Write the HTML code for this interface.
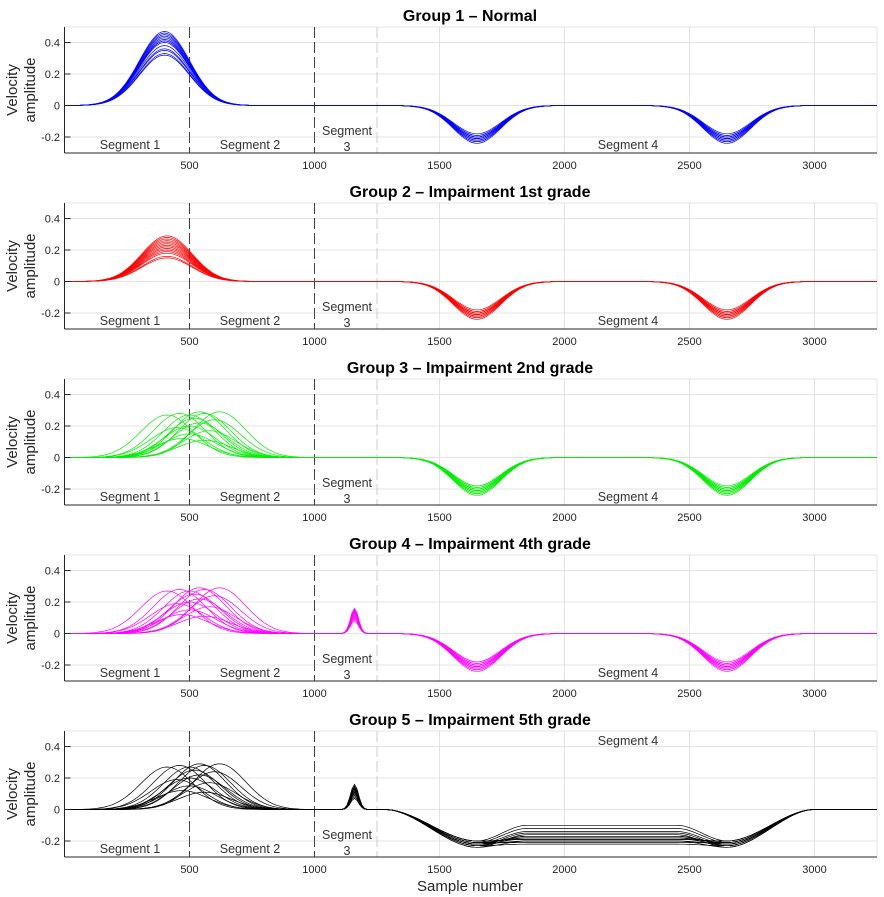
<!DOCTYPE html>
<html><head><meta charset="utf-8">
<style>
html,body{margin:0;padding:0;background:#fff;overflow:hidden;}
svg{display:block;font-family:"Liberation Sans",sans-serif;}
</style></head>
<body>
<svg id="chart" width="884" height="897" viewBox="0 0 884 897" xmlns="http://www.w3.org/2000/svg"></svg>
<script>
// ---- data ----
const groupTitles = ["Group 1 \u2013 Normal","Group 2 \u2013 Impairment 1st grade","Group 3 \u2013 Impairment 2nd grade","Group 4 \u2013 Impairment 4th grade","Group 5 \u2013 Impairment 5th grade"];
const groupColors = ["#0000ff","#ff0000","#00ee00","#ff00ff","#000000"];
const xTicks = [500,1000,1500,2000,2500,3000];
const yTicks = [-0.2,0,0.2,0.4];
const yTickLabels = ["-0.2","0","0.2","0.4"];
const segDividers = [500,1000,1250];
// positive wave: centers and amplitudes per group
const posCenters1 = [400,400,400,400,400,400,400,400,400,400,400,400,400,400];
const posAmps1 = [0.32,0.33,0.35,0.36,0.38,0.40,0.41,0.42,0.43,0.44,0.45,0.46,0.47,0.41];
const posCenters2 = [410,410,410,410,410,410,410,410,410,410,410,410,410,410];
const posAmps2 = [0.15,0.16,0.18,0.19,0.20,0.22,0.23,0.24,0.25,0.26,0.27,0.28,0.29,0.21];
const posCenters3 = [410,460,500,540,560,600,620,500,450,540,580,500,470,560,520];
const posAmps3 = [0.27,0.28,0.27,0.29,0.28,0.24,0.29,0.20,0.19,0.22,0.17,0.15,0.12,0.11,0.25];
const posCenters4 = [410,460,500,540,560,600,620,500,450,540,580,500,470,560,520];
const posAmps4 = [0.27,0.28,0.27,0.29,0.28,0.24,0.29,0.20,0.19,0.22,0.17,0.15,0.12,0.11,0.25];
const posCenters5 = [410,460,500,540,560,600,620,500,450,540,580,500,470,560,520];
const posAmps5 = [0.27,0.28,0.27,0.29,0.28,0.24,0.29,0.20,0.19,0.22,0.17,0.15,0.12,0.11,0.25];
// segment-3 spike amplitudes (groups 4,5)
const spikeAmps4 = [0.08,0.09,0.10,0.11,0.12,0.13,0.14,0.15,0.16,0.12,0.10,0.14,0.11,0.13,0.15];
const spikeAmps5 = [0.07,0.08,0.10,0.11,0.12,0.13,0.14,0.15,0.16,0.12,0.10,0.14,0.11,0.13,0.09];
// negative dips
const dip1Amps = [-0.18,-0.19,-0.20,-0.21,-0.22,-0.23,-0.24,-0.20,-0.21,-0.19,-0.22,-0.23,-0.20,-0.21];
const dip2Amps = [-0.18,-0.19,-0.20,-0.21,-0.22,-0.23,-0.24,-0.20,-0.21,-0.19,-0.22,-0.23,-0.20,-0.21];
// group 5 plateau levels
const plateau5 = [-0.10,-0.12,-0.14,-0.15,-0.16,-0.17,-0.18,-0.18,-0.19,-0.20,-0.20,-0.21,-0.22,-0.17,-0.19];
const dip5Amps = [-0.20,-0.21,-0.22,-0.23,-0.24,-0.22,-0.21,-0.23,-0.20,-0.24,-0.22,-0.21,-0.23,-0.22,-0.20];

const posC=[posCenters1,posCenters2,posCenters3,posCenters4,posCenters5];
const posA=[posAmps1,posAmps2,posAmps3,posAmps4,posAmps5];
const spikeA=[null,null,null,spikeAmps4,spikeAmps5];

const svg=document.getElementById('chart');
const NS="http://www.w3.org/2000/svg";
function mk(tag,attrs,parent){const e=document.createElementNS(NS,tag);for(const k in attrs)e.setAttribute(k,attrs[k]);(parent||svg).appendChild(e);return e;}
const X0=64.5, XS=0.25;
function xs(v){return X0+v*XS;}
function ysFor(p){const zero=105.5+176*p;return v=>zero-v*157.5;}
function g(x,c,s){return Math.exp(-0.5*((x-c)/s)**2);}
function ramp(x,a,b){if(x<=a)return 0;if(x>=b)return 1;const t=(x-a)/(b-a);return t*t*(3-2*t);}

for(let p=0;p<5;p++){
  const ys=ysFor(p), top=27+176*p, bot=153+176*p;
  const grp=mk('g',{});
  
  
  const t=mk('text',{x:470,y:21+176*p,'text-anchor':'middle','font-size':'16','font-weight':'bold',fill:'#000'},grp);
  t.textContent=groupTitles[p];
  
  
  // grid
  xTicks.forEach(v=>{if(v>1250){const l=mk('line',{x1:xs(v),x2:xs(v),y1:top,y2:bot,stroke:'#e3e3e3','stroke-width':1},grp);}});
  yTicks.forEach(v=>{const l=mk('line',{x1:X0,x2:877,y1:ys(v),y2:ys(v),stroke:'#e3e3e3','stroke-width':1},grp);});
  mk('line',{x1:X0,x2:877,y1:top,y2:top,stroke:'#e6e6e6'},grp);
  mk('line',{x1:877,x2:877,y1:top,y2:bot,stroke:'#e6e6e6'},grp);
  // dividers
  segDividers.forEach((v,i)=>{const l=mk('line',{x1:xs(v),x2:xs(v),y1:top,y2:bot,stroke:i<2?'#444':'#ccc','stroke-width':1,'stroke-dasharray':'11,4'},grp);});
  // curves
  const cs=posC[p], as=posA[p];
  for(let k=0;k<as.length;k++){
    let pts=[];
    for(let x=0;x<=3250;x+=10){
      let v=as[k]*g(x,cs[k],p<2?100:105);
      if(spikeA[p]) v+=spikeA[p][k%spikeA[p].length]*g(x,1160,16);
      if(p<4){
        v+=dip1Amps[k%dip1Amps.length]*g(x,1650,95)+dip2Amps[(k+3)%dip2Amps.length]*g(x,2650,95);
      }else{
        const pl=plateau5[k%plateau5.length], d=dip5Amps[k%dip5Amps.length];
        let base;
        if(x<1650) base=d*ramp(x,1280,1650);
        else if(x>2650) base=d*(1-ramp(x,2650,3000));
        else base=d+(pl-d)*ramp(x,1650,1850)*(1-ramp(x,2450,2650));
        v+=base;
      }
      pts.push(xs(x).toFixed(1)+','+ys(v).toFixed(1));
    }
    const pl=mk('polyline',{points:pts.join(' '),fill:'none',stroke:groupColors[p],'stroke-width':0.7},grp);
    
    
  }
  // axes
  mk('line',{x1:X0,x2:X0,y1:top,y2:bot,stroke:'#262626'},grp);
  mk('line',{x1:X0,x2:877,y1:bot,y2:bot,stroke:'#262626'},grp);
  yTicks.forEach((v,i)=>{
    mk('line',{x1:X0,x2:X0+6,y1:ys(v),y2:ys(v),stroke:'#262626'},grp);
    const tl=mk('text',{x:60,y:ys(v)+4,'text-anchor':'end','font-size':'11',fill:'#262626'},grp);
    tl.textContent=yTickLabels[i];
    
    
  });
  xTicks.forEach(v=>{
    const tl=mk('text',{x:xs(v),y:bot+16,'text-anchor':'middle','font-size':'11',fill:'#262626'},grp);
    tl.textContent=String(v);
    
    
  });
  // y label
  const yl=mk('text',{transform:`translate(17,${90+176*p}) rotate(-90)`,'text-anchor':'middle','font-size':'15',fill:'#262626'},grp);
  yl.textContent='Velocity';
  
  
  const yl2=mk('text',{transform:`translate(35,${90+176*p}) rotate(-90)`,'text-anchor':'middle','font-size':'15',fill:'#262626'},grp);
  yl2.textContent='amplitude';
  
  
  // segment labels
  const segs=[['Segment 1',130,149],['Segment 2',250,149],['Segment',347,135],['3',347,151],['Segment 4',628,p===4?41:149]];
  segs.forEach(s=>{
    const st=mk('text',{x:s[1],y:s[2]+176*p,'text-anchor':'middle','font-size':'12.5',fill:'#333'},grp);
    st.textContent=s[0];
    
    
  });
}
const xl=mk('text',{x:470,y:891,'text-anchor':'middle','font-size':'15',fill:'#262626'});
xl.textContent='Sample number';


</script>
</body></html>
